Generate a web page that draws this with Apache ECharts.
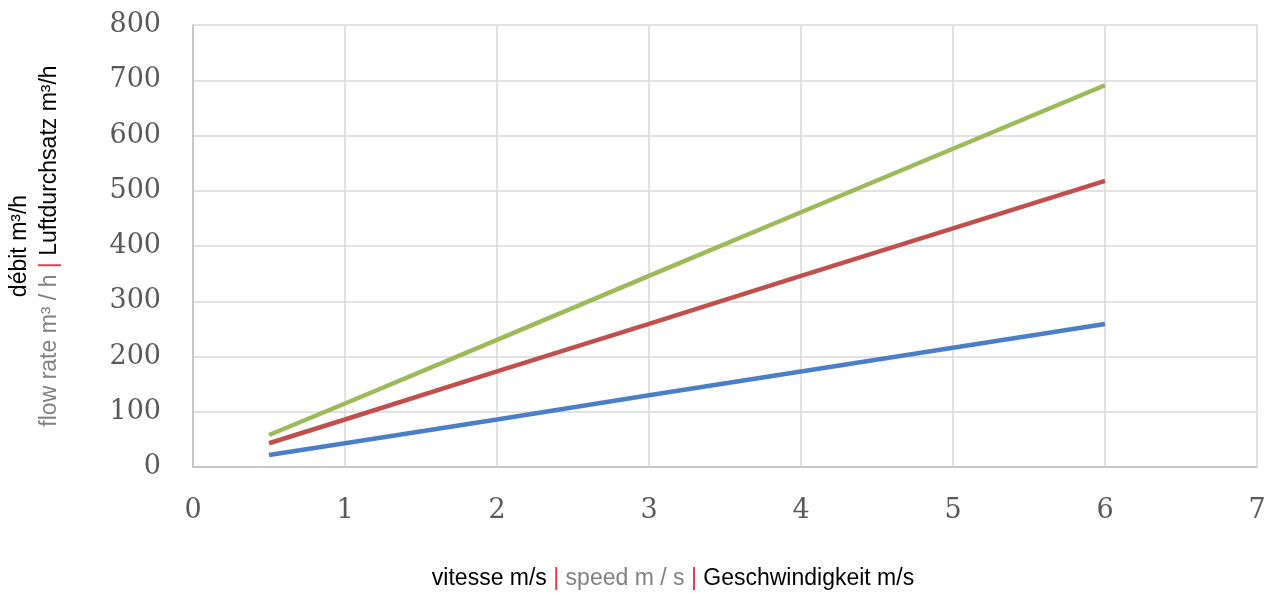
<!DOCTYPE html>
<html><head><meta charset="utf-8">
<script src="https://cdn.jsdelivr.net/npm/echarts@6/dist/echarts.min.js"></script>
<style>html,body{margin:0;padding:0;background:#fff}#c{width:1277px;height:593px}</style>
</head><body><div id="c"></div>
<script>
const speeds = [0.5, 1, 2, 3, 4, 5, 6];
const blueFlow = [21.6, 43, 86, 130, 173, 216, 259];
const redFlow = [43, 86, 173, 259, 346, 432, 518];
const greenFlow = [58, 115, 230, 346, 461, 576, 691];
const xTicks = [0, 1, 2, 3, 4, 5, 6, 7];
const yTicks = [0, 100, 200, 300, 400, 500, 600, 700, 800];

const pair = arr => speeds.map((s, i) => [s, arr[i]]);
const chart = echarts.init(document.getElementById('c'), null, {renderer: 'canvas'});
const tickFont = {fontFamily: 'DejaVu Serif', fontSize: 27, color: '#595959'};
const gridLine = {show: true, lineStyle: {color: '#d9d9d9', width: 1.5}};
const F = 'Liberation Sans';
chart.setOption({
  animation: false,
  grid: {left: 193, right: 20, top: 25, bottom: 126, containLabel: false, outerBoundsMode: 'none'},
  xAxis: {
    type: 'value', min: xTicks[0], max: xTicks[xTicks.length - 1], interval: 1,
    axisLine: {show: true, lineStyle: {color: '#bfbfbf', width: 1.5}},
    axisTick: {show: false},
    splitLine: gridLine,
    axisLabel: Object.assign({margin: 30}, tickFont),
    name: '{k|vitesse m/s }{r||}{g| speed m / s }{r||}{k| Geschwindigkeit m/s}',
    nameLocation: 'middle', nameGap: 100,
    nameTextStyle: {
      padding: [0, 104, 0, 0],
      rich: {
        k: {fontFamily: F, fontSize: 23, color: '#000'},
        g: {fontFamily: F, fontSize: 23, color: '#808080'},
        r: {fontFamily: F, fontSize: 23, color: '#e8323c'}
      }
    }
  },
  yAxis: {
    type: 'value', min: yTicks[0], max: yTicks[yTicks.length - 1], interval: 100,
    axisLine: {show: true, lineStyle: {color: '#bfbfbf', width: 1.5}},
    axisTick: {show: false},
    splitLine: gridLine,
    axisLabel: Object.assign({margin: 32}, tickFont),
    name: '{k|débit m³/h}\n{g|flow rate m³ / h }{r||}{k| Luftdurchsatz m³/h}',
    nameLocation: 'middle', nameGap: 128, nameRotate: 90,
    nameTextStyle: {
      lineHeight: 30,
      rich: {
        k: {fontFamily: F, fontSize: 23, color: '#000', lineHeight: 30},
        g: {fontFamily: F, fontSize: 23, color: '#808080', lineHeight: 30},
        r: {fontFamily: F, fontSize: 23, color: '#e8323c', lineHeight: 30}
      }
    }
  },
  series: [
    {type: 'line', data: pair(blueFlow), showSymbol: false, lineStyle: {color: '#4a7ec6', width: 4.5}},
    {type: 'line', data: pair(redFlow), showSymbol: false, lineStyle: {color: '#c0504d', width: 4.5}},
    {type: 'line', data: pair(greenFlow), showSymbol: false, lineStyle: {color: '#9bbb59', width: 4.5}}
  ]
});
</script></body></html>
